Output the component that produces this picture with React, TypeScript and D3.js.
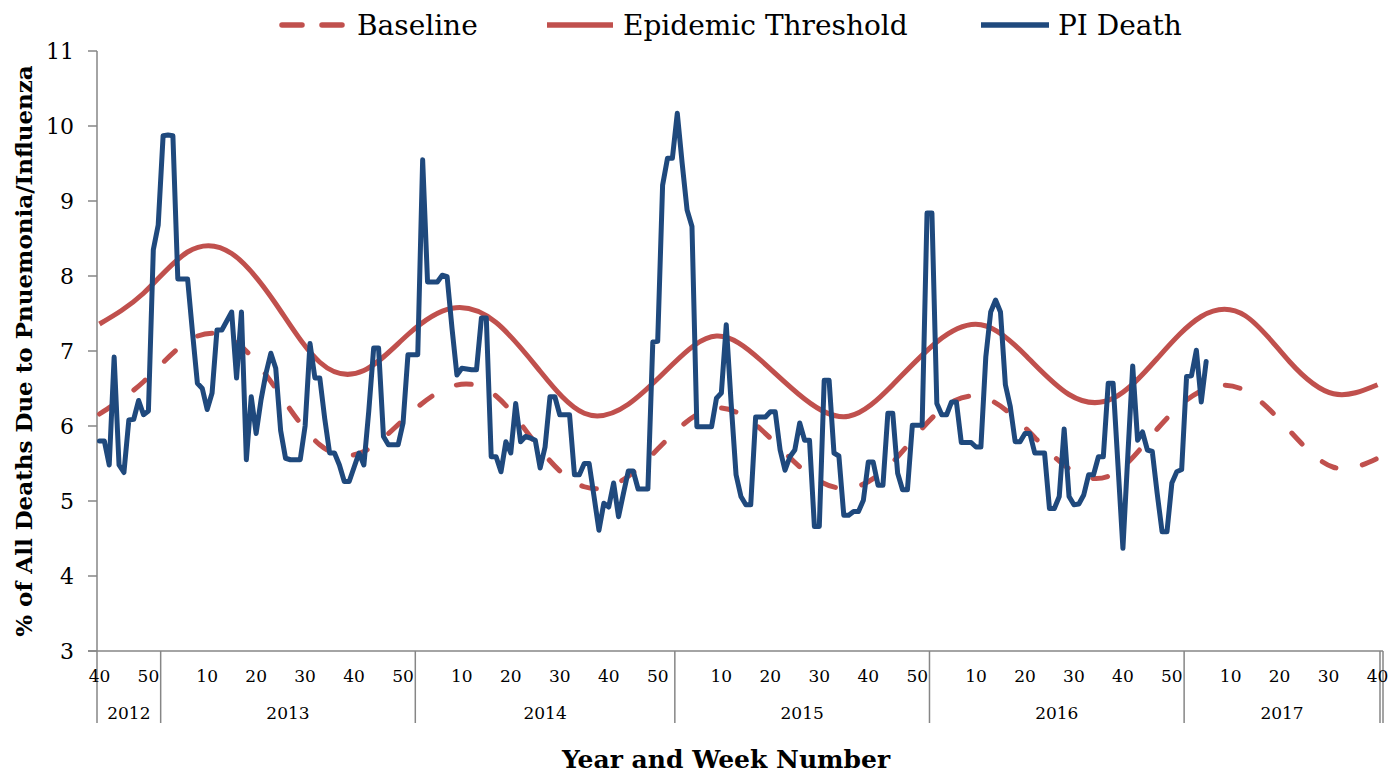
import React from "react";
import * as d3 from "d3";

// MMWR years shown on the axis, with first/last week plotted in each
const seasonYears = [2012, 2013, 2014, 2015, 2016, 2017];
const yearFirstWeek = [40, 1, 1, 1, 1, 1];
const yearLastWeek = [52, 52, 53, 52, 52, 40];

// % of all deaths due to pneumonia & influenza, weekly
const piDeath2012 = [5.8, 5.8, 5.48, 6.92, 5.48, 5.38, 6.08, 6.09, 6.34, 6.15, 6.2, 8.35, 8.68];
const piDeath2013 = [
  9.87, 9.88, 9.87, 7.96, 7.96, 7.96, 7.25, 6.57, 6.5, 6.22, 6.44, 7.28, 7.28, 7.4, 7.52, 6.64,
  7.52, 5.55, 6.39, 5.9, 6.35, 6.7, 6.97, 6.77, 5.94, 5.57, 5.55, 5.55, 5.55, 6.0, 7.1, 6.64,
  6.64, 6.1, 5.64, 5.64, 5.48, 5.26, 5.26, 5.45, 5.64, 5.48, 6.2, 7.04, 7.04, 5.86, 5.75, 5.75,
  5.75, 6.04, 6.95, 6.95,
];
const piDeath2014 = [
  6.95, 9.55, 7.92, 7.92, 7.92, 8.01, 7.99, 7.3, 6.68, 6.77, 6.76, 6.75, 6.75, 7.44, 7.44, 5.59,
  5.59, 5.39, 5.79, 5.64, 6.3, 5.79, 5.86, 5.84, 5.81, 5.44, 5.72, 6.39, 6.39, 6.15, 6.15, 6.15,
  5.35, 5.35, 5.5, 5.5, 5.06, 4.61, 4.97, 4.92, 5.24, 4.79, 5.1, 5.4, 5.4, 5.16, 5.16, 5.16,
  7.12, 7.13, 9.21, 9.57, 9.57,
];
const piDeath2015 = [
  10.17, 9.5, 8.88, 8.66, 5.99, 5.99, 5.99, 5.99, 6.37, 6.44, 7.35, 6.3, 5.35, 5.06, 4.95, 4.95,
  6.12, 6.12, 6.12, 6.19, 6.19, 5.68, 5.41, 5.59, 5.68, 6.04, 5.81, 5.81, 4.66, 4.66, 6.61, 6.61,
  5.64, 5.6, 4.81, 4.81, 4.86, 4.86, 5.01, 5.52, 5.52, 5.21, 5.21, 6.17, 6.17, 5.37, 5.15, 5.15,
  6.01, 6.01, 6.01, 8.84,
];
const piDeath2016 = [
  8.84, 6.3, 6.15, 6.15, 6.32, 6.32, 5.78, 5.78, 5.78, 5.72, 5.72, 6.92, 7.52, 7.68, 7.52, 6.55,
  6.26, 5.79, 5.79, 5.9, 5.9, 5.64, 5.64, 5.64, 4.9, 4.9, 5.06, 5.96, 5.06, 4.95, 4.96, 5.08,
  5.35, 5.35, 5.59, 5.59, 6.57, 6.57, 5.47, 4.37, 5.6, 6.8, 5.81, 5.92, 5.68, 5.66, 5.1, 4.59,
  4.59, 5.24, 5.39, 5.42,
];
const piDeath2017 = [6.66, 6.67, 7.01, 6.32, 6.86];

// Serfling baseline and epidemic threshold, read every 9th week
const curveSampleEvery = 9;
const baselineValues = [
  6.16, 6.59, 7.13, 7.16, 6.5, 5.75, 5.66, 6.14, 6.53, 6.4, 5.69, 5.19, 5.33, 5.89, 6.24,
  5.96, 5.4, 5.17, 5.52, 6.17, 6.39, 5.98, 5.43, 5.36, 5.96, 6.47, 6.47, 5.94, 5.45, 5.57,
];
const thresholdValues = [
  7.36, 7.77, 8.32, 8.3, 7.63, 6.85, 6.74, 7.22, 7.57, 7.38, 6.73, 6.17, 6.29, 6.82, 7.2,
  6.88, 6.36, 6.13, 6.55, 7.12, 7.35, 6.95, 6.42, 6.37, 6.9, 7.46, 7.47, 6.86, 6.43, 6.55,
];

const yTickValues = [3, 4, 5, 6, 7, 8, 9, 10, 11];

const RED = "#C0504D";
const BLUE = "#1F497D";
const GRAY = "#868686";
const FONT = "'DejaVu Serif', Georgia, serif";

const App: React.FC = () => {
  const width = 1389;
  const height = 773;
  const plot = { left: 97, right: 1380, top: 51, bottom: 651 };

  const weeks = seasonYears.flatMap((yr, k) =>
    d3.range(yearFirstWeek[k], yearLastWeek[k] + 1).map((w) => ({ year: yr, week: w }))
  );

  const x = d3
    .scaleBand<number>()
    .domain(d3.range(weeks.length))
    .range([plot.left, plot.right]);
  const cx = (i: number) => (x(i) as number) + x.bandwidth() / 2;

  const y = d3.scaleLinear().domain([3, 11]).range([plot.bottom, plot.top]);

  const piDeath = [
    ...piDeath2012,
    ...piDeath2013,
    ...piDeath2014,
    ...piDeath2015,
    ...piDeath2016,
    ...piDeath2017,
  ];

  const piLine = d3
    .line<number>()
    .x((_, i) => cx(i))
    .y((d) => y(d));

  const sampleIdx = baselineValues.map((_, k) =>
    Math.min(k * curveSampleEvery, weeks.length - 1)
  );
  const smoothLine = d3
    .line<number>()
    .x((_, k) => cx(sampleIdx[k]))
    .y((d) => y(d))
    .curve(d3.curveNatural);

  // year groups on the axis
  let start = 0;
  const groups = seasonYears.map((yr, k) => {
    const n = yearLastWeek[k] - yearFirstWeek[k] + 1;
    const g = { year: yr, x0: x(start) as number, x1: (x(start + n - 1) as number) + x.bandwidth() };
    start += n;
    return g;
  });

  const weekLabels = weeks
    .map((d, i) => ({ ...d, i }))
    .filter((d) => d.week % 10 === 0);

  const sepBottom = 723;

  return (
    <svg
      width={width}
      height={height}
      style={{ position: "absolute", left: 0, top: 0, background: "#fff" }}
      fontFamily={FONT}
    >
      {/* legend */}
      <g>
        <line x1={282} x2={342} y1={25} y2={25} stroke={RED} strokeWidth={5.5}
          strokeDasharray="20 20" strokeLinecap="round" />
        <text x={357} y={35} fontSize={28}>Baseline</text>
        <line x1={547} x2={613} y1={25} y2={25} stroke={RED} strokeWidth={5.5} />
        <text x={623} y={35} fontSize={28}>Epidemic Threshold</text>
        <line x1={981} x2={1049} y1={25} y2={25} stroke={BLUE} strokeWidth={5.5} />
        <text x={1058} y={35} fontSize={28}>PI Death</text>
      </g>

      {/* y axis */}
      <line x1={plot.left} x2={plot.left} y1={plot.top} y2={sepBottom} stroke={GRAY} strokeWidth={1.5} />
      {yTickValues.map((t) => (
        <g key={t}>
          <line x1={88} x2={plot.left} y1={y(t)} y2={y(t)} stroke={GRAY} strokeWidth={1.5} />
          <text x={74} y={y(t)} dy="0.36em" textAnchor="end" fontSize={22}>
            {t}
          </text>
        </g>
      ))}
      <text
        transform={`translate(32, 351) rotate(-90)`}
        textAnchor="middle"
        fontSize={23}
        fontWeight="bold"
      >
        % of All Deaths Due to Pnuemonia/Influenza
      </text>

      {/* x axis */}
      <line x1={88} x2={plot.right + 3} y1={plot.bottom} y2={plot.bottom} stroke={GRAY} strokeWidth={1.5} />
      {groups.map((g) => (
        <line key={`s${g.year}`} x1={g.x1} x2={g.x1} y1={plot.bottom} y2={sepBottom}
          stroke={GRAY} strokeWidth={1.5} />
      ))}
      <line x1={plot.right + 3} x2={plot.right + 3} y1={plot.bottom} y2={sepBottom} stroke={GRAY} strokeWidth={1.5} />
      {weekLabels.map((d) => (
        <text key={`w${d.i}`} x={cx(d.i)} y={682} textAnchor="middle" fontSize={17}>
          {d.week}
        </text>
      ))}
      {groups.map((g) => (
        <text key={`y${g.year}`} x={(g.x0 + g.x1) / 2} y={719} textAnchor="middle" fontSize={17}>
          {g.year}
        </text>
      ))}
      <text x={726} y={768} textAnchor="middle" fontSize={25} fontWeight="bold">
        Year and Week Number
      </text>

      {/* series */}
      <path d={smoothLine(baselineValues) ?? ""} fill="none" stroke={RED} strokeWidth={5}
        strokeDasharray="15 27" strokeLinecap="round" />
      <path d={smoothLine(thresholdValues) ?? ""} fill="none" stroke={RED} strokeWidth={5} />
      <path d={piLine(piDeath) ?? ""} fill="none" stroke={BLUE} strokeWidth={5}
        strokeLinejoin="round" strokeLinecap="round" />
    </svg>
  );
};

export default App;
